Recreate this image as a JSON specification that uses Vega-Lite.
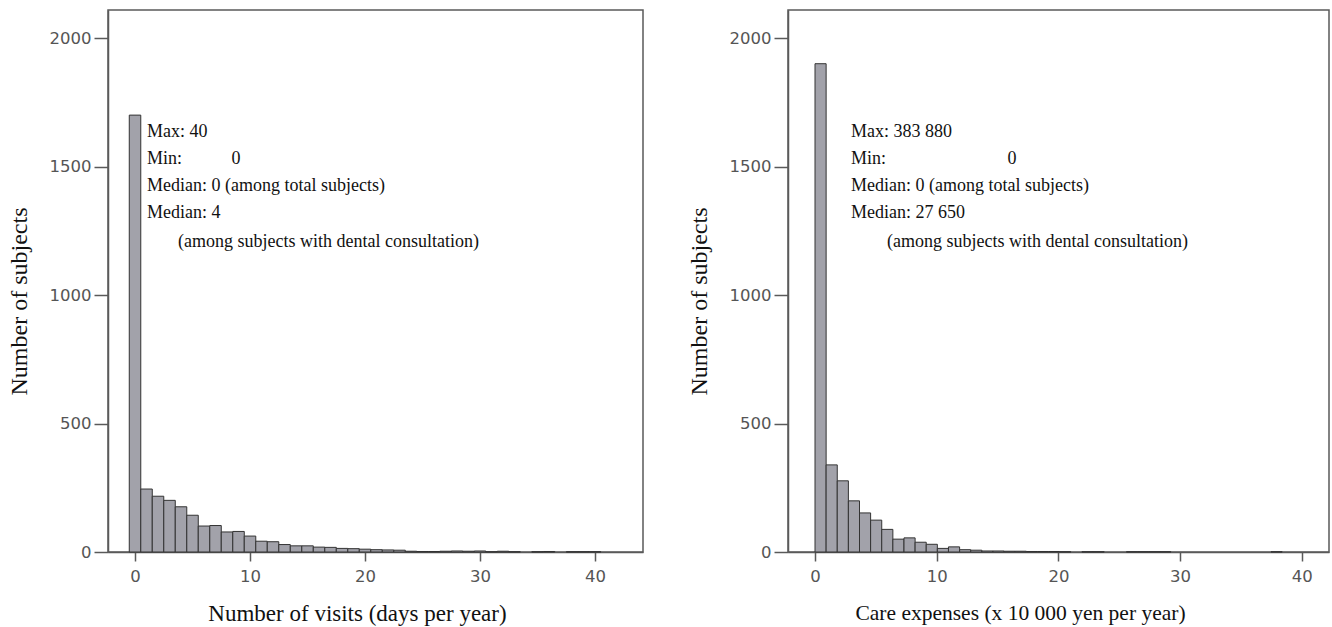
{
  "$schema": "https://vega.github.io/schema/vega-lite/v6.json",
  "background": "white",
  "padding": {"left": 6, "top": 9, "right": 0, "bottom": 0},
  "autosize": {"type": "pad"},
  "bounds": "flush",
  "spacing": 145,
  "config": {
    "view": {"stroke": "#5a5a5a", "strokeWidth": 1.5},
    "axis": {
      "domainColor": "#5a5a5a", "domainWidth": 1.5,
      "tickColor": "#5a5a5a", "tickWidth": 1.5,
      "labelFont": "DejaVu Sans", "labelFontSize": 16.5, "labelColor": "#555555",
      "titleFont": "Liberation Serif", "titleFontWeight": "normal", "titleColor": "#111111",
      "titleBaseline": "middle",
      "grid": false
    },
    "axisX": {"tickSize": 9, "labelPadding": 7},
    "axisY": {"tickSize": 14, "labelPadding": 3, "titleFontSize": 24}
  },
  "hconcat": [
    {
      "width": 535,
      "height": 542,
      "layer": [
        {
          "data": {"values": [
            {"bin_start": -0.5, "bin_end": 0.5, "count": 1700},
            {"bin_start": 0.5, "bin_end": 1.5, "count": 245},
            {"bin_start": 1.5, "bin_end": 2.5, "count": 217},
            {"bin_start": 2.5, "bin_end": 3.5, "count": 201},
            {"bin_start": 3.5, "bin_end": 4.5, "count": 176},
            {"bin_start": 4.5, "bin_end": 5.5, "count": 143},
            {"bin_start": 5.5, "bin_end": 6.5, "count": 101},
            {"bin_start": 6.5, "bin_end": 7.5, "count": 103},
            {"bin_start": 7.5, "bin_end": 8.5, "count": 78},
            {"bin_start": 8.5, "bin_end": 9.5, "count": 80},
            {"bin_start": 9.5, "bin_end": 10.5, "count": 62},
            {"bin_start": 10.5, "bin_end": 11.5, "count": 42},
            {"bin_start": 11.5, "bin_end": 12.5, "count": 40},
            {"bin_start": 12.5, "bin_end": 13.5, "count": 29},
            {"bin_start": 13.5, "bin_end": 14.5, "count": 24},
            {"bin_start": 14.5, "bin_end": 15.5, "count": 24},
            {"bin_start": 15.5, "bin_end": 16.5, "count": 19},
            {"bin_start": 16.5, "bin_end": 17.5, "count": 18},
            {"bin_start": 17.5, "bin_end": 18.5, "count": 14},
            {"bin_start": 18.5, "bin_end": 19.5, "count": 13},
            {"bin_start": 19.5, "bin_end": 20.5, "count": 11},
            {"bin_start": 20.5, "bin_end": 21.5, "count": 9},
            {"bin_start": 21.5, "bin_end": 22.5, "count": 8},
            {"bin_start": 22.5, "bin_end": 23.5, "count": 7},
            {"bin_start": 23.5, "bin_end": 24.5, "count": 3},
            {"bin_start": 24.5, "bin_end": 25.5, "count": 2},
            {"bin_start": 25.5, "bin_end": 26.5, "count": 2},
            {"bin_start": 26.5, "bin_end": 27.5, "count": 3},
            {"bin_start": 27.5, "bin_end": 28.5, "count": 4},
            {"bin_start": 28.5, "bin_end": 29.5, "count": 3},
            {"bin_start": 29.5, "bin_end": 30.5, "count": 4},
            {"bin_start": 30.5, "bin_end": 31.5, "count": 1},
            {"bin_start": 31.5, "bin_end": 32.5, "count": 3},
            {"bin_start": 32.5, "bin_end": 33.5, "count": 1},
            {"bin_start": 34.5, "bin_end": 35.5, "count": 1},
            {"bin_start": 35.5, "bin_end": 36.5, "count": 2},
            {"bin_start": 37.5, "bin_end": 38.5, "count": 1},
            {"bin_start": 38.5, "bin_end": 39.5, "count": 1},
            {"bin_start": 39.5, "bin_end": 40.5, "count": 1}
          ]},
          "mark": {"type": "bar", "fill": "#a2a2aa", "stroke": "#333333", "strokeWidth": 1},
          "encoding": {
            "x": {"field": "bin_start", "type": "quantitative",
                  "scale": {"domain": [-2.35, 44.17], "nice": false, "zero": false},
                  "axis": {"values": [0, 10, 20, 30, 40], "title": "Number of visits (days per year)", "titleFontSize": 23, "titleX": 249, "titleY": 61}},
            "x2": {"field": "bin_end"},
            "y": {"field": "count", "type": "quantitative",
                  "scale": {"domain": [0, 2109], "nice": false},
                  "axis": {"values": [0, 500, 1000, 1500, 2000], "format": "d", "title": "Number of subjects", "titleX": -89, "titleY": 291}},
            "y2": {"datum": 0}
          }
        },
        {
          "data": {"values": [{}]},
          "mark": {"type": "text", "align": "left", "baseline": "alphabetic", "font": "Liberation Serif", "fontSize": 18, "lineHeight": 27, "color": "#111111",
                   "text": ["Max: 40", "Min:\u00a0\u00a0\u00a0\u00a0\u00a0\u00a0\u00a0\u00a0\u00a0\u00a0\u00a00", "Median: 0 (among total subjects)", "Median: 4"]},
          "encoding": {"x": {"datum": 1.04}, "y": {"datum": 1614}}
        },
        {
          "data": {"values": [{}]},
          "mark": {"type": "text", "align": "left", "baseline": "alphabetic", "font": "Liberation Serif", "fontSize": 18, "color": "#111111",
                   "text": "(among subjects with dental consultation)"},
          "encoding": {"x": {"datum": 3.74}, "y": {"datum": 1187}}
        }
      ]
    },
    {
      "width": 541,
      "height": 542,
      "layer": [
        {
          "data": {"values": [
            {"bin_start": 0, "bin_end": 0.914, "count": 1900},
            {"bin_start": 0.914, "bin_end": 1.828, "count": 339},
            {"bin_start": 1.828, "bin_end": 2.742, "count": 277},
            {"bin_start": 2.742, "bin_end": 3.656, "count": 199},
            {"bin_start": 3.656, "bin_end": 4.57, "count": 152},
            {"bin_start": 4.57, "bin_end": 5.484, "count": 124},
            {"bin_start": 5.484, "bin_end": 6.398, "count": 88},
            {"bin_start": 6.398, "bin_end": 7.312, "count": 50},
            {"bin_start": 7.312, "bin_end": 8.226, "count": 55},
            {"bin_start": 8.226, "bin_end": 9.14, "count": 38},
            {"bin_start": 9.14, "bin_end": 10.054, "count": 30},
            {"bin_start": 10.054, "bin_end": 10.968, "count": 14},
            {"bin_start": 10.968, "bin_end": 11.882, "count": 20},
            {"bin_start": 11.882, "bin_end": 12.796, "count": 9},
            {"bin_start": 12.796, "bin_end": 13.71, "count": 7},
            {"bin_start": 13.71, "bin_end": 14.624, "count": 4},
            {"bin_start": 14.624, "bin_end": 15.538, "count": 4},
            {"bin_start": 15.538, "bin_end": 16.452, "count": 3},
            {"bin_start": 16.452, "bin_end": 17.366, "count": 3},
            {"bin_start": 17.366, "bin_end": 18.28, "count": 2},
            {"bin_start": 18.28, "bin_end": 19.194, "count": 2},
            {"bin_start": 19.194, "bin_end": 20.108, "count": 2},
            {"bin_start": 20.108, "bin_end": 21.022, "count": 1},
            {"bin_start": 21.936, "bin_end": 22.85, "count": 1},
            {"bin_start": 22.85, "bin_end": 23.764, "count": 1},
            {"bin_start": 25.592, "bin_end": 26.506, "count": 1},
            {"bin_start": 26.506, "bin_end": 27.42, "count": 1},
            {"bin_start": 27.42, "bin_end": 28.334, "count": 1},
            {"bin_start": 28.334, "bin_end": 29.248, "count": 1},
            {"bin_start": 37.474, "bin_end": 38.388, "count": 1}
          ]},
          "mark": {"type": "bar", "fill": "#a2a2aa", "stroke": "#333333", "strokeWidth": 1},
          "encoding": {
            "x": {"field": "bin_start", "type": "quantitative",
                  "scale": {"domain": [-2.22, 42.24], "nice": false, "zero": false},
                  "axis": {"values": [0, 10, 20, 30, 40], "title": "Care expenses (x 10 000 yen per year)", "titleFontSize": 21.5, "titleX": 232, "titleY": 61}},
            "x2": {"field": "bin_end"},
            "y": {"field": "count", "type": "quantitative",
                  "scale": {"domain": [0, 2109], "nice": false},
                  "axis": {"values": [0, 500, 1000, 1500, 2000], "format": "d", "title": "Number of subjects", "titleX": -89, "titleY": 291}},
            "y2": {"datum": 0}
          }
        },
        {
          "data": {"values": [{}]},
          "mark": {"type": "text", "align": "left", "baseline": "alphabetic", "font": "Liberation Serif", "fontSize": 18, "lineHeight": 27, "color": "#111111",
                   "text": ["Max: 383 880", "Min:\u00a0\u00a0\u00a0\u00a0\u00a0\u00a0\u00a0\u00a0\u00a0\u00a0\u00a0\u00a0\u00a0\u00a0\u00a0\u00a0\u00a0\u00a0\u00a0\u00a0\u00a0\u00a0\u00a0\u00a0\u00a0\u00a0\u00a00", "Median: 0 (among total subjects)", "Median: 27 650"]},
          "encoding": {"x": {"datum": 2.96}, "y": {"datum": 1614}}
        },
        {
          "data": {"values": [{}]},
          "mark": {"type": "text", "align": "left", "baseline": "alphabetic", "font": "Liberation Serif", "fontSize": 18, "color": "#111111",
                   "text": "(among subjects with dental consultation)"},
          "encoding": {"x": {"datum": 5.92}, "y": {"datum": 1187}}
        }
      ]
    }
  ]
}
